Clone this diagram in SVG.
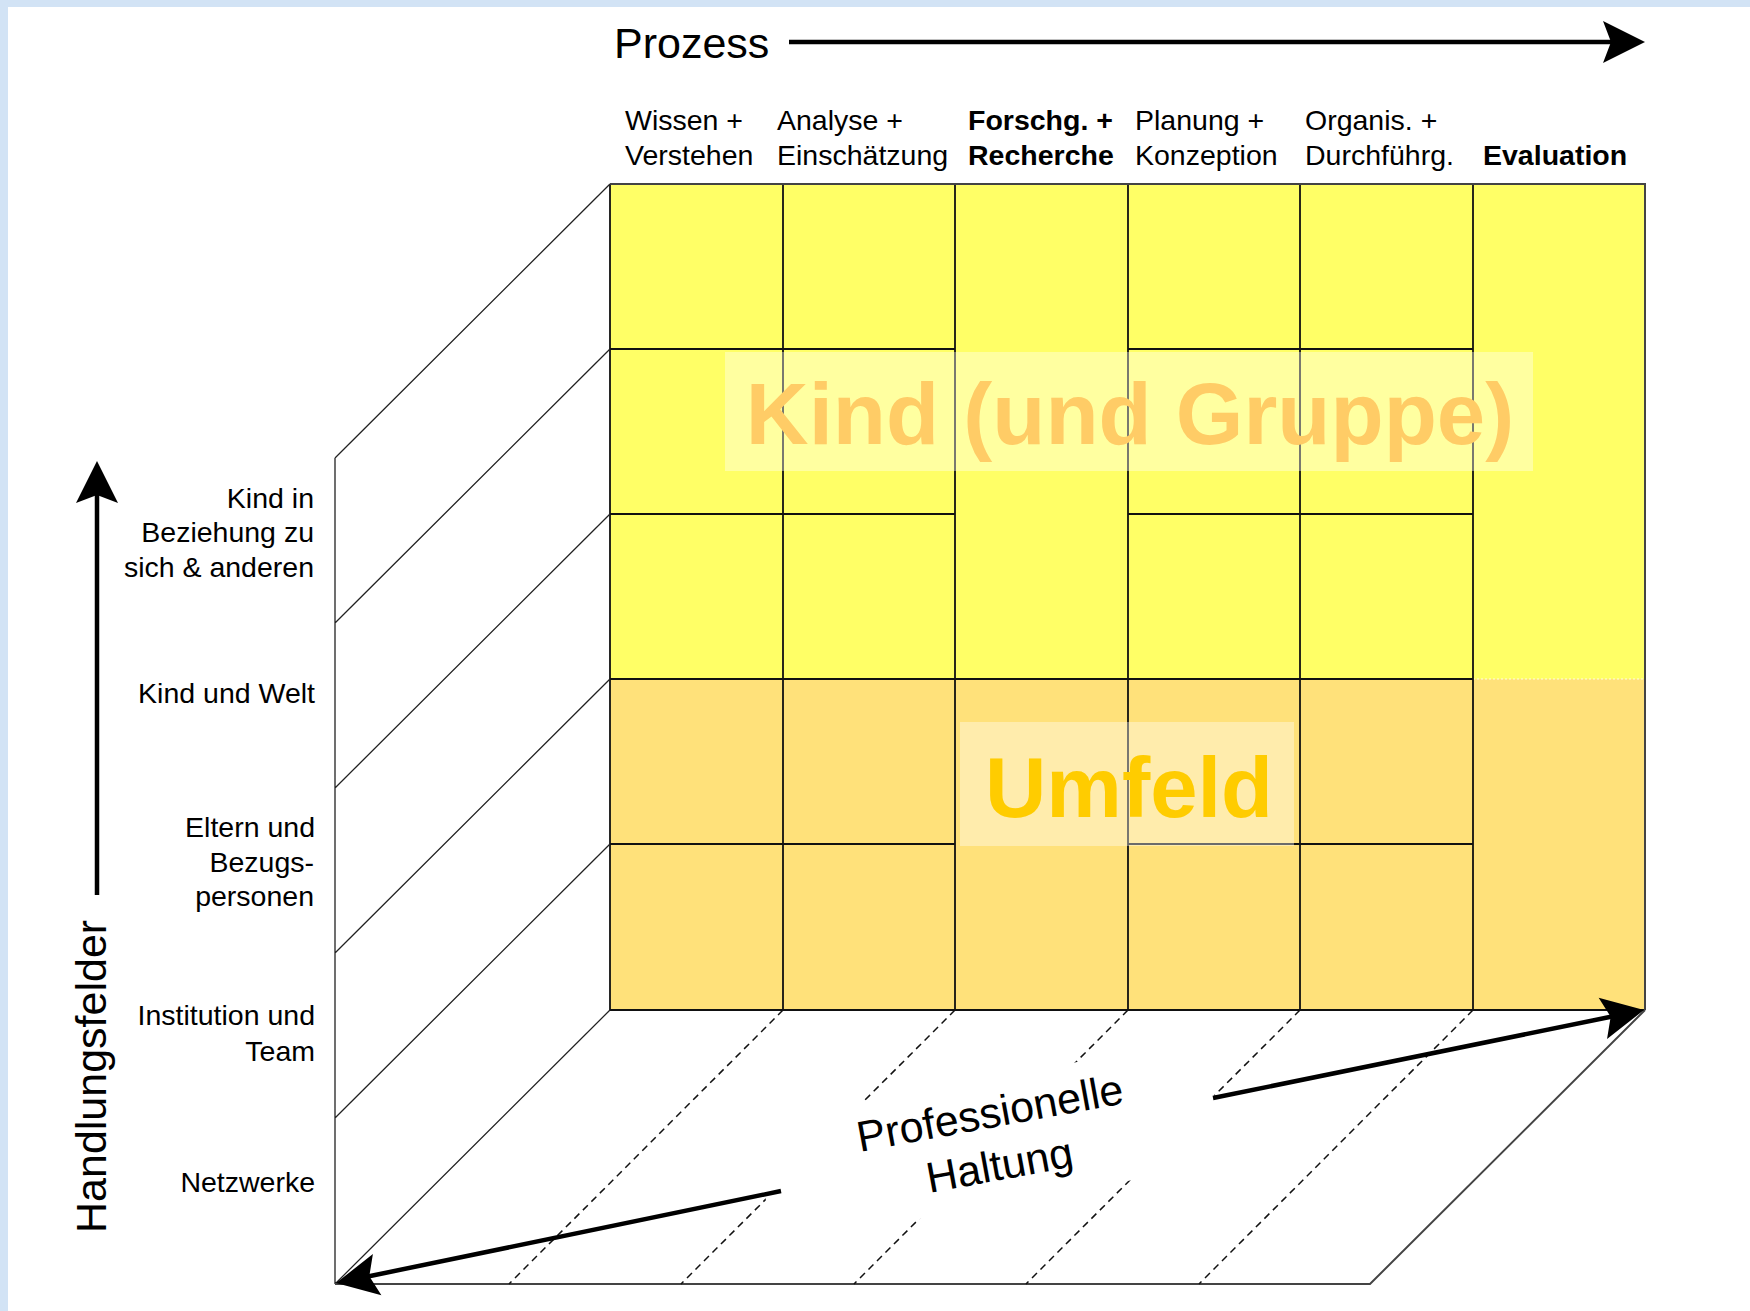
<svg xmlns="http://www.w3.org/2000/svg" width="1750" height="1311" viewBox="0 0 1750 1311">
<style>
text{font-family:"Liberation Sans",Arial,Helvetica,sans-serif;fill:#000}
.s{font-size:28.5px}
.b{font-weight:bold}
.big{font-size:43px}
.r{text-anchor:end}
.grid{stroke:#111;stroke-width:1.8;fill:none}
.edge{stroke:#444;stroke-width:2;fill:none}
.diag{stroke:#222;stroke-width:1.3;fill:none}
.dash{stroke:#111;stroke-width:1.5;stroke-dasharray:7 5;fill:none}
.arrow{stroke:#000;stroke-width:4.5;fill:none;marker-end:url(#ah)}
.veil{fill:#fff;fill-opacity:0.38}
</style>
<defs>
<marker id="ah" viewBox="-44 -22 46 44" refX="-30" refY="0" markerWidth="46" markerHeight="44" markerUnits="userSpaceOnUse" orient="auto">
<path d="M0,0 L-42,-21 L-34,0 L-42,21 Z" fill="#000"/>
</marker>
</defs>
<g id="background">
<rect x="0" y="0" width="1750" height="1311" fill="#D2E3F5"/>
<rect x="8" y="7" width="1742" height="1304" fill="#fff"/>
</g>
<g id="front-face">
<rect x="610" y="184" width="1035" height="495" fill="#FFFF66"/>
<rect x="610" y="679" width="1035" height="331" fill="#FFE17A"/>
<line x1="1473" y1="679" x2="1645" y2="679" stroke="#fff" stroke-width="1.2" stroke-dasharray="2 2" stroke-opacity="0.8"/>
</g>
<g id="grid">
<path class="grid" d="M783,184V1010 M955,184V1010 M1128,184V1010 M1300,184V1010 M1473,184V1010"/>
<path class="grid" d="M610,349H955 M1128,349H1473 M610,514H955 M1128,514H1473 M610,679H1473 M610,844H955 M1128,844H1473"/>
<path class="grid" d="M610,184V1010 M610,1010H1645"/>
<path class="edge" d="M610,184H1645V1010"/>
</g>
<g id="left-wall">
<path class="diag" d="M335,458V1284 M335,458L610,184 M335,623L610,349 M335,788L610,514 M335,953L610,679 M335,1118L610,844 M335,1284L610,1010"/>
</g>
<g id="floor">
<path class="edge" d="M335,1284H1370L1645,1010"/>
<path class="dash" d="M783,1010L509,1284 M955,1010L681,1284 M1128,1010L854,1284 M1300,1010L1026,1284 M1473,1010L1199,1284"/>
</g>
<g id="kind-gruppe">
<rect class="veil" x="725" y="352" width="808" height="119"/>
<text x="1130" y="444" text-anchor="middle" font-size="87" font-weight="bold" style="fill:#FFCC66">Kind (und Gruppe)</text>
</g>
<g id="umfeld">
<rect class="veil" x="960" y="722" width="334" height="124"/>
<text x="1129" y="817" text-anchor="middle" font-size="85" font-weight="bold" style="fill:#FFCC00">Umfeld</text>
</g>
<g id="haltung" transform="translate(992.5,1127.5) rotate(-10.4)">
<rect x="-236" y="-49" width="460" height="126" fill="#fff"/>
<text class="big" x="0" y="0" text-anchor="middle">Professionelle</text>
<text class="big" x="0" y="53" text-anchor="middle">Haltung</text>
</g>
<g id="prozess"><text class="big" x="614" y="58">Prozess</text></g>
<g id="handlungsfelder"><text class="big" transform="translate(106,1233) rotate(-90)">Handlungsfelder</text></g>
<g id="col-wissen"><text class="s" x="625" y="130">Wissen +</text><text class="s" x="625" y="165">Verstehen</text></g>
<g id="col-analyse"><text class="s" x="777" y="130">Analyse +</text><text class="s" x="777" y="165">Einschätzung</text></g>
<g id="col-forschung"><text class="s b" x="968" y="130">Forschg. +</text><text class="s b" x="968" y="165">Recherche</text></g>
<g id="col-planung"><text class="s" x="1135" y="130">Planung +</text><text class="s" x="1135" y="165">Konzeption</text></g>
<g id="col-organisation"><text class="s" x="1305" y="130">Organis. +</text><text class="s" x="1305" y="165">Durchführg.</text></g>
<g id="col-evaluation"><text class="s b" x="1483" y="165">Evaluation</text></g>
<g id="row-kind-beziehung"><text class="s r" x="314" y="508">Kind in</text><text class="s r" x="314" y="542">Beziehung zu</text><text class="s r" x="314" y="577">sich &amp; anderen</text></g>
<g id="row-kind-welt"><text class="s r" x="315" y="703">Kind und Welt</text></g>
<g id="row-eltern"><text class="s r" x="315" y="837">Eltern und</text><text class="s r" x="314" y="872">Bezugs-</text><text class="s r" x="314" y="906">personen</text></g>
<g id="row-institution"><text class="s r" x="315" y="1025">Institution und</text><text class="s r" x="315" y="1061">Team</text></g>
<g id="row-netzwerke"><text class="s r" x="315" y="1192">Netzwerke</text></g>
<g id="connectors">
<line class="arrow" x1="789" y1="42" x2="1615" y2="42"/>
<line class="arrow" x1="97" y1="895" x2="97" y2="491"/>
<line class="arrow" x1="781" y1="1191" x2="365.4" y2="1277"/>
<line class="arrow" x1="1213" y1="1098" x2="1614.6" y2="1016"/>
</g>
</svg>
